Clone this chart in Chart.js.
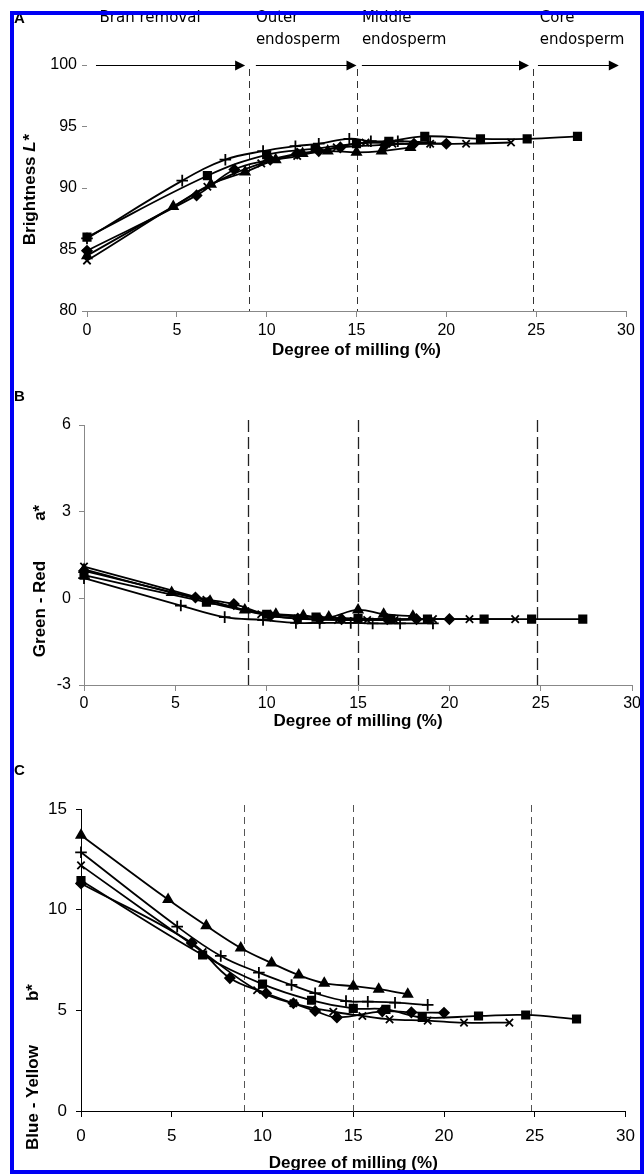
<!DOCTYPE html>
<html>
<head>
<meta charset="utf-8">
<script src="https://cdn.jsdelivr.net/npm/chart.js@4.4.1/dist/chart.umd.min.js"></script>
<style>
  html, body { margin: 0; padding: 0; background: #fff; }
  body { width: 644px; height: 1174px; position: relative; overflow: hidden; }
  canvas { position: absolute; left: 0; }
  #frame { position: absolute; left: 10px; top: 11px; width: 634px; height: 1163px; box-sizing: border-box;
           border: 4px solid #0000f4; pointer-events: none; z-index: 5; }
</style>
</head>
<body>
<canvas id="chartA" width="644" height="372" style="top:0"></canvas>
<canvas id="chartB" width="644" height="368" style="top:372px"></canvas>
<canvas id="chartC" width="644" height="434" style="top:740px"></canvas>
<div id="frame"></div>
<script>
// milling stage boundaries (% degree of milling) and labels
const boundaries = [9, 15, 24.8];
const regionNames = [['Bran removal'], ['Outer', 'endosperm'], ['Middle', 'endosperm'], ['Core', 'endosperm']];
const regionStart = [0.7, 9.4, 15.3, 25.2];
const arrowFrom = [0.5, 9.4, 15.3, 25.1];
const arrowTo = [8.8, 15.0, 24.6, 29.6];

// degree of milling (%) of each sample, one array per variety
const dmDiamond  = [0, 6.1, 8.2, 10.2, 11.7, 12.9, 14.1, 16.6, 18.2, 20.0];
const dmSquare   = [0, 6.7, 10.0, 12.7, 15.0, 16.8, 18.8, 21.9, 24.5, 27.3];
const dmTriangle = [0, 4.8, 6.9, 8.8, 10.5, 12.0, 13.4, 15.0, 16.4, 18.0];
const dmCross    = [0, 6.7, 9.7, 11.7, 13.9, 15.5, 17.0, 19.1, 21.1, 23.6];
const dmPlus     = [0, 5.3, 7.7, 9.8, 11.6, 12.9, 14.6, 15.8, 17.3, 19.1];

// A: brightness L*
const lDiamond  = [84.9, 89.4, 91.5, 92.3, 92.8, 93.0, 93.3, 93.5, 93.6, 93.6];
const lSquare   = [86.0, 91.0, 92.7, 93.2, 93.6, 93.8, 94.2, 94.0, 94.0, 94.2];
const lTriangle = [84.5, 88.5, 90.3, 91.3, 92.3, 92.8, 93.0, 92.9, 93.0, 93.3];
const lCross    = [84.1, 90.1, 92.0, 92.6, 93.3, 93.7, 93.6, 93.6, 93.6, 93.7];
const lPlus     = [85.9, 90.6, 92.3, 93.0, 93.4, 93.6, 94.0, 93.8, 93.8, 93.7];

// B: green - red a*
const aDiamond  = [0.95, 0.03, -0.2, -0.6, -0.7, -0.72, -0.72, -0.72, -0.72, -0.72];
const aSquare   = [0.8, -0.13, -0.55, -0.65, -0.7, -0.72, -0.72, -0.72, -0.72, -0.72];
const aTriangle = [1.0, 0.2, -0.1, -0.4, -0.55, -0.6, -0.65, -0.4, -0.55, -0.62];
const aCross    = [1.1, -0.05, -0.55, -0.7, -0.75, -0.75, -0.75, -0.72, -0.72, -0.72];
const aPlus     = [0.7, -0.25, -0.65, -0.75, -0.85, -0.85, -0.85, -0.87, -0.87, -0.87];

// C: blue - yellow b*
const bDiamond  = [11.3, 8.35, 6.6, 5.85, 5.35, 4.97, 4.65, 4.95, 4.9, 4.88];
const bSquare   = [11.45, 7.75, 6.3, 5.5, 5.1, 5.05, 4.65, 4.72, 4.77, 4.57];
const bTriangle = [13.7, 10.5, 9.2, 8.1, 7.35, 6.75, 6.35, 6.2, 6.05, 5.8];
const bCross    = [12.2, 7.9, 6.0, 5.35, 4.93, 4.72, 4.55, 4.49, 4.39, 4.39];
const bPlus     = [12.85, 9.16, 7.7, 6.87, 6.26, 5.85, 5.46, 5.43, 5.38, 5.27];

Chart.defaults.font.family = '"Liberation Sans", Arial, sans-serif';
Chart.defaults.color = '#000';
Chart.defaults.animation = false;

const markerStyles = [
  { style: 'rectRot', radius: 4.8, dm: dmDiamond },
  { style: 'rect', radius: 5.2, dm: dmSquare },
  { style: 'triangle', radius: 5.2, dm: dmTriangle },
  { style: 'crossRot', radius: 5.2, dm: dmCross },
  { style: 'cross', radius: 5.8, dm: dmPlus }
];

function makeDatasets(series) {
  return series.map((vals, k) => {
    const m = markerStyles[k];
    return {
      data: m.dm.map((x, i) => ({ x: x, y: vals[i] })),
      borderColor: '#000',
      backgroundColor: '#000',
      borderWidth: 1.8,
      pointStyle: m.style,
      pointRadius: m.radius,
      pointBorderWidth: 1.8,
      tension: 0.4,
      clip: false
    };
  });
}

function vText(ctx, cx, cy, parts) {
  ctx.save();
  ctx.translate(cx, cy);
  ctx.rotate(-Math.PI / 2);
  ctx.textBaseline = 'middle';
  ctx.fillStyle = '#000';
  let total = 0;
  parts.forEach(p => { ctx.font = p.font; total += p.gap || ctx.measureText(p.text).width; });
  let x = -total / 2;
  parts.forEach(p => {
    ctx.font = p.font;
    if (p.gap) { x += p.gap; return; }
    ctx.fillText(p.text, x, 0);
    x += ctx.measureText(p.text).width;
  });
  ctx.restore();
}

// dashed stage boundaries, arrows, region labels, axis titles
const decor = {
  id: 'decor',
  beforeDatasetsDraw(chart, args, o) {
    const { ctx, chartArea, scales: { x } } = chart;
    ctx.save();
    ctx.strokeStyle = o.lineColor;
    ctx.lineWidth = o.lineWidth;
    ctx.setLineDash(o.dash);
    boundaries.forEach(v => {
      const px = Math.round(x.getPixelForValue(v)) + 0.5;
      ctx.beginPath();
      ctx.moveTo(px, chartArea.top + o.lineTop);
      ctx.lineTo(px, chartArea.bottom);
      ctx.stroke();
    });
    ctx.restore();
  },
  afterDraw(chart, args, o) {
    const { ctx, scales: { x, y } } = chart;
    ctx.save();
    ctx.fillStyle = '#000';
    ctx.font = 'bold 15px "Liberation Sans", Arial, sans-serif';
    ctx.textBaseline = 'middle';
    ctx.fillText(o.letter, 14, o.letterY);
    if (o.arrows) {
      const ay = Math.round(y.getPixelForValue(y.max)) + 0.5;
      ctx.strokeStyle = '#000';
      ctx.lineWidth = 1.2;
      arrowFrom.forEach((f, i) => {
        const x0 = x.getPixelForValue(f), x1 = x.getPixelForValue(arrowTo[i]);
        ctx.beginPath(); ctx.moveTo(x0, ay); ctx.lineTo(x1 - 6, ay); ctx.stroke();
        ctx.beginPath(); ctx.moveTo(x1, ay); ctx.lineTo(x1 - 10, ay - 5); ctx.lineTo(x1 - 10, ay + 5); ctx.closePath(); ctx.fill();
      });
      ctx.font = '15px "DejaVu Sans", sans-serif';
      ctx.textBaseline = 'middle';
      regionNames.forEach((lines, i) => {
        lines.forEach((t, j) => ctx.fillText(t, x.getPixelForValue(regionStart[i]), 18 + j * 22));
      });
    }
    ctx.restore();
    vText(ctx, o.titleX, o.titleY, o.titleParts);
  }
};

const B17 = 'bold 17px "Liberation Sans", Arial, sans-serif';
const BI17 = 'italic bold 17px "Liberation Sans", Arial, sans-serif';

function makeChart(id, series, cfg) {
  return new Chart(document.getElementById(id), {
    type: 'line',
    data: { datasets: makeDatasets(series) },
    plugins: [decor],
    options: {
      responsive: false,
      layout: { padding: { top: cfg.top, right: cfg.right, left: 0, bottom: 0 } },
      plugins: { legend: { display: false }, tooltip: { enabled: false }, decor: cfg.decor },
      scales: {
        x: {
          type: 'linear', min: 0, max: 30,
          ticks: { stepSize: 5, font: { size: cfg.tickSize }, padding: cfg.xPad, maxRotation: 0 },
          grid: { drawOnChartArea: false, tickLength: 6, color: cfg.axisColor },
          border: { display: true, color: cfg.axisColor },
          title: { display: true, text: 'Degree of milling (%)', font: { size: 17, weight: 'bold' },
                   padding: { top: 0, bottom: cfg.titlePad } },
          afterFit(s) { s.height = cfg.xHeight; }
        },
        y: {
          min: cfg.yMin, max: cfg.yMax,
          ticks: { stepSize: cfg.yStep, font: { size: cfg.tickSize }, padding: cfg.yPad },
          grid: { drawOnChartArea: false, tickLength: 5, color: cfg.axisColor },
          border: { display: cfg.yLine, color: cfg.axisColor },
          afterFit(s) { s.width = cfg.left; }
        }
      }
    }
  });
}

makeChart('chartA', [lDiamond, lSquare, lTriangle, lCross, lPlus], {
  top: 65, right: 18, left: 87, xHeight: 61, titlePad: 11, xPad: 4, yPad: 5, tickSize: 16,
  yMin: 80, yMax: 100, yStep: 5, yLine: false, axisColor: '#888',
  decor: { letter: 'A', letterY: 19, arrows: true, lineColor: '#333', lineWidth: 1, dash: [7, 5], lineTop: 4,
           titleX: 30, titleY: 190, titleParts: [{ text: 'Brightness ', font: B17 }, { text: 'L*', font: BI17 }] }
});

makeChart('chartB', [aDiamond, aSquare, aTriangle, aCross, aPlus], {
  top: 53, right: 8, left: 84, xHeight: 55, titlePad: 8, xPad: 3, yPad: 8, tickSize: 16,
  yMin: -3, yMax: 6, yStep: 3, yLine: true, axisColor: '#888',
  decor: { letter: 'B', letterY: 25, arrows: false, lineColor: '#222', lineWidth: 1.3, dash: [12, 5], lineTop: -5,
           titleX: 40, titleY: 209, titleParts: [{ text: 'Green - Red', font: B17 }, { gap: 40 }, { text: 'a*', font: B17 }] }
});

makeChart('chartC', [bDiamond, bSquare, bTriangle, bCross, bPlus], {
  top: 69, right: 5, left: 81, xHeight: 63, titlePad: 0, xPad: 9, yPad: 9, tickSize: 17,
  yMin: 0, yMax: 15, yStep: 5, yLine: true, axisColor: '#000',
  decor: { letter: 'C', letterY: 31, arrows: false, lineColor: '#555', lineWidth: 1, dash: [7, 5], lineTop: -4,
           titleX: 33, titleY: 327, titleParts: [{ text: 'Blue - Yellow', font: B17 }, { gap: 44 }, { text: 'b*', font: B17 }] }
});
</script>
</body>
</html>
